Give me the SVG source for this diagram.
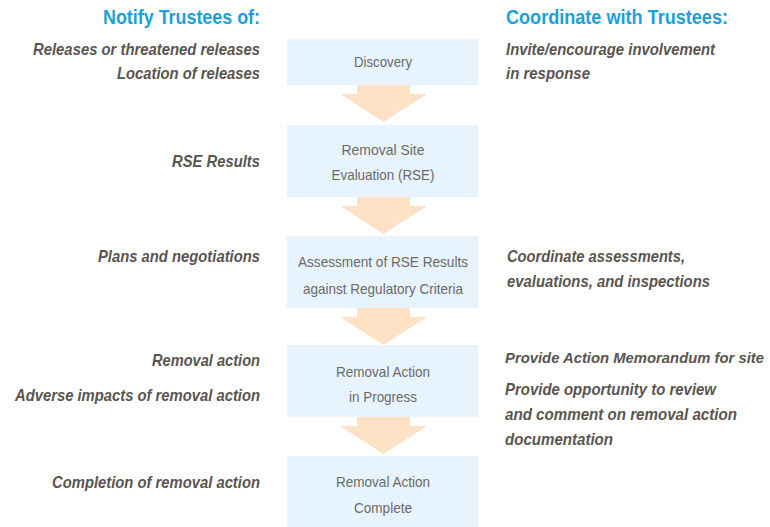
<svg xmlns="http://www.w3.org/2000/svg" xmlns:xlink="http://www.w3.org/1999/xlink" width="770" height="527" viewBox="0 0 770 527">
  <style>
    .box { fill: #e7f4fd; }
    .flow { fill: #fde2c6; }
    .head { font-family: "Liberation Sans", Arial, sans-serif; font-weight: bold; font-size: 20px; fill: #1ba1d8; }
    .note { font-family: "Liberation Sans", Arial, sans-serif; font-weight: bold; font-style: italic; font-size: 17px; fill: #5a5550; }
    .tight { font-size: 15px; }
    .left { text-anchor: end; }
    .step { font-family: "Liberation Sans", Arial, sans-serif; font-size: 15px; fill: #6a6a6a; text-anchor: middle; }
  </style>
  <defs>
    <!-- block arrow pointing down, top edge at y=0 -->
    <path id="down" d="M357,0 H410 V9 H427 L383.5,37 L340,9 H357 Z"/>
  </defs>

  <rect width="770" height="527" fill="#ffffff"/>

  <!-- column headings -->
  <g id="headings">
    <text class="head left" x="260" y="24" textLength="157" lengthAdjust="spacingAndGlyphs">Notify Trustees of:</text>
    <text class="head" x="506" y="24" textLength="222" lengthAdjust="spacingAndGlyphs">Coordinate with Trustees:</text>
  </g>

  <!-- connectors between process steps -->
  <g id="connectors">
    <use xlink:href="#down" class="flow" transform="translate(0,85)"/>
    <use xlink:href="#down" class="flow" transform="translate(0,197)"/>
    <use xlink:href="#down" class="flow" transform="translate(0,308)"/>
    <use xlink:href="#down" class="flow" transform="translate(0,417)"/>
  </g>

  <!-- process steps -->
  <g id="discovery">
    <rect class="box" x="287" y="39" width="191" height="46"/>
    <text class="step" x="383" y="67" textLength="58" lengthAdjust="spacingAndGlyphs">Discovery</text>
  </g>
  <g id="rse">
    <rect class="box" x="287" y="125" width="191" height="72"/>
    <text class="step" x="383" y="155" textLength="83" lengthAdjust="spacingAndGlyphs">Removal Site</text>
    <text class="step" x="383" y="180" textLength="103" lengthAdjust="spacingAndGlyphs">Evaluation (RSE)</text>
  </g>
  <g id="assessment">
    <rect class="box" x="287" y="236" width="191" height="72"/>
    <text class="step" x="383" y="267" textLength="170" lengthAdjust="spacingAndGlyphs">Assessment of RSE Results</text>
    <text class="step" x="383" y="294" textLength="160" lengthAdjust="spacingAndGlyphs">against Regulatory Criteria</text>
  </g>
  <g id="in-progress">
    <rect class="box" x="287" y="345" width="191" height="72"/>
    <text class="step" x="383" y="377" textLength="94" lengthAdjust="spacingAndGlyphs">Removal Action</text>
    <text class="step" x="383" y="402" textLength="68" lengthAdjust="spacingAndGlyphs">in Progress</text>
  </g>
  <g id="complete">
    <rect class="box" x="287" y="456" width="191" height="71"/>
    <text class="step" x="383" y="487" textLength="94" lengthAdjust="spacingAndGlyphs">Removal Action</text>
    <text class="step" x="383" y="513" textLength="58" lengthAdjust="spacingAndGlyphs">Complete</text>
  </g>

  <!-- notifications (left column) -->
  <g id="notify">
    <text class="note left" x="260" y="55" textLength="227" lengthAdjust="spacingAndGlyphs">Releases or threatened releases</text>
    <text class="note left" x="260" y="79" textLength="143" lengthAdjust="spacingAndGlyphs">Location of releases</text>
    <text class="note left" x="260" y="167" textLength="88" lengthAdjust="spacingAndGlyphs">RSE Results</text>
    <text class="note left" x="260" y="262" textLength="162" lengthAdjust="spacingAndGlyphs">Plans and negotiations</text>
    <text class="note left" x="260" y="366" textLength="108" lengthAdjust="spacingAndGlyphs">Removal action</text>
    <text class="note left" x="260" y="401" textLength="245" lengthAdjust="spacingAndGlyphs">Adverse impacts of removal action</text>
    <text class="note left" x="260" y="488" textLength="208" lengthAdjust="spacingAndGlyphs">Completion of removal action</text>
  </g>

  <!-- coordination (right column) -->
  <g id="coordinate">
    <text class="note" x="506" y="55" textLength="209" lengthAdjust="spacingAndGlyphs">Invite/encourage involvement</text>
    <text class="note" x="506" y="79" textLength="84" lengthAdjust="spacingAndGlyphs">in response</text>
    <text class="note" x="507" y="262" textLength="178" lengthAdjust="spacingAndGlyphs">Coordinate assessments,</text>
    <text class="note" x="507" y="287" textLength="203" lengthAdjust="spacingAndGlyphs">evaluations, and inspections</text>
    <text class="note tight" x="505" y="363" textLength="259" lengthAdjust="spacingAndGlyphs">Provide Action Memorandum for site</text>
    <text class="note" x="505" y="395" textLength="211" lengthAdjust="spacingAndGlyphs">Provide opportunity to review</text>
    <text class="note" x="505" y="420" textLength="232" lengthAdjust="spacingAndGlyphs">and comment on removal action</text>
    <text class="note" x="505" y="445" textLength="108" lengthAdjust="spacingAndGlyphs">documentation</text>
  </g>
</svg>
